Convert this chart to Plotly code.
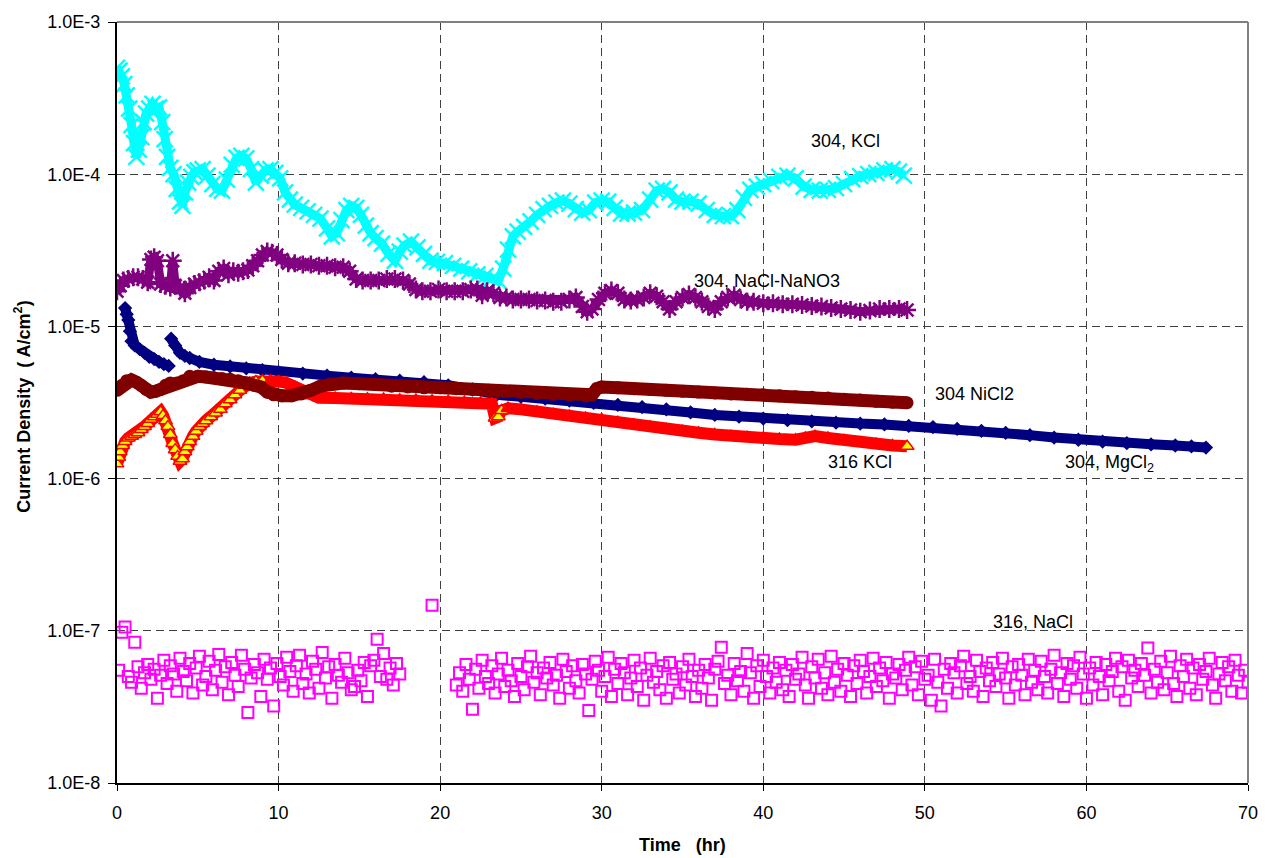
import plotly.graph_objects as go

# ---------------- data ----------------
# 304, KCl  (time hr, current density A/cm2)
kcl304_t = [0.0, 0.15, 0.3, 0.45, 0.6, 0.75, 0.9, 1.05, 1.2, 1.35, 1.5, 1.65, 1.8, 2.0, 2.2, 2.4, 2.6, 2.8,
            2.95, 3.1, 3.3, 3.5, 3.7, 3.9, 4.05, 4.2, 4.4, 4.6, 4.8, 5.0, 5.3, 5.6, 5.9, 6.2, 6.5, 6.8, 7.1,
            7.4, 7.7, 8.0, 8.3, 8.6, 8.9, 9.2, 9.5, 9.8, 10.1, 10.4, 10.7, 11.0, 11.4, 11.8, 12.2, 12.6, 13.0,
            13.3, 13.6, 13.9, 14.2, 14.5, 14.8, 15.1, 15.4, 15.7, 16.0, 16.4, 16.8, 17.2, 17.5, 17.8, 18.2,
            18.6, 19.0, 19.4, 19.8, 20.3, 20.8, 21.3, 21.8, 22.3, 22.8, 23.2, 23.6, 23.9, 24.2, 24.5, 24.8,
            25.2, 25.6, 26.0, 26.4, 26.8, 27.2, 27.6, 28.0, 28.4, 28.8, 29.2, 29.6, 30.0, 30.4, 30.8, 31.2,
            31.6, 32.0, 32.5, 33.0, 33.4, 33.8, 34.2, 34.6, 35.0, 35.5, 36.0, 36.5, 37.0, 37.5, 38.0, 38.4,
            38.8, 39.2, 39.6, 40.0, 40.5, 41.0, 41.5, 42.0, 42.5, 43.0, 43.5, 44.0, 44.5, 45.0, 45.5, 46.0,
            46.5, 47.0, 47.5, 48.0, 48.4, 48.7]
kcl304_j = [5.0e-4, 4.8e-4, 4.4e-4, 3.9e-4, 3.3e-4, 2.7e-4, 2.1e-4, 1.6e-4, 1.3e-4, 1.45e-4, 1.75e-4, 2.2e-4,
            2.5e-4, 2.7e-4, 2.9e-4, 2.7e-4, 2.75e-4, 2.2e-4, 1.7e-4, 1.3e-4, 1.1e-4, 1.0e-4, 8.0e-5, 6.6e-5,
            6.2e-5, 7.6e-5, 8.8e-5, 9.6e-5, 1.03e-4, 1.06e-4, 1.08e-4, 9.8e-5, 8.6e-5, 8.0e-5, 7.8e-5, 9.2e-5,
            1.15e-4, 1.28e-4, 1.32e-4, 1.27e-4, 1.08e-4, 8.8e-5, 9.8e-5, 1.06e-4, 1.08e-4, 1.02e-4, 9.4e-5,
            7.6e-5, 6.8e-5, 6.3e-5, 6.0e-5, 5.7e-5, 5.4e-5, 5.1e-5, 4.4e-5, 3.9e-5, 4.1e-5, 5.0e-5, 5.8e-5,
            6.2e-5, 6.0e-5, 5.4e-5, 4.6e-5, 4.1e-5, 3.8e-5, 3.5e-5, 3.0e-5, 2.7e-5, 3.1e-5, 3.4e-5, 3.6e-5,
            3.3e-5, 3.0e-5, 2.7e-5, 2.65e-5, 2.6e-5, 2.5e-5, 2.4e-5, 2.3e-5, 2.2e-5, 2.15e-5, 2.05e-5, 2.0e-5,
            2.4e-5, 3.2e-5, 3.9e-5, 4.2e-5, 4.5e-5, 4.9e-5, 5.4e-5, 5.9e-5, 6.2e-5, 6.5e-5, 6.7e-5, 6.4e-5,
            5.9e-5, 5.6e-5, 5.8e-5, 6.5e-5, 6.7e-5, 6.6e-5, 6.0e-5, 5.5e-5, 5.5e-5, 5.6e-5, 5.8e-5, 6.8e-5,
            7.8e-5, 8.0e-5, 7.6e-5, 6.8e-5, 6.6e-5, 6.6e-5, 6.4e-5, 5.8e-5, 5.4e-5, 5.3e-5, 5.3e-5, 5.8e-5,
            7.0e-5, 7.9e-5, 8.3e-5, 8.6e-5, 9.0e-5, 9.6e-5, 9.8e-5, 9.4e-5, 8.3e-5, 7.9e-5, 7.8e-5, 7.9e-5,
            8.1e-5, 8.6e-5, 9.3e-5, 9.7e-5, 1.0e-4, 1.02e-4, 1.06e-4, 1.08e-4, 1.04e-4, 9.8e-5]

# 304, NaCl-NaNO3
nano3_t = [0.0, 0.2, 0.4, 0.7, 1.0, 1.3, 1.6, 1.9, 2.1, 2.3, 2.5, 2.7, 3.0, 3.3, 3.45, 3.6, 3.9, 4.2, 4.5,
           4.8, 5.1, 5.4, 5.7, 6.0, 6.3, 6.6, 6.9, 7.2, 7.5, 7.8, 8.1, 8.4, 8.7, 9.0, 9.3, 9.6, 9.9, 10.2,
           10.6, 11.0, 11.5, 12.0, 12.5, 13.0, 13.5, 14.0, 14.4, 14.8, 15.2, 15.7, 16.2, 16.7, 17.2, 17.7,
           18.1, 18.5, 18.9, 19.4, 19.9, 20.4, 20.9, 21.4, 21.9, 22.3, 22.6, 22.9, 23.3, 23.7, 24.1, 24.5,
           25.0, 25.5, 26.0, 26.5, 27.0, 27.5, 28.0, 28.4, 28.8, 29.1, 29.4, 29.8, 30.2, 30.6, 31.0, 31.4,
           31.8, 32.2, 32.6, 33.0, 33.4, 33.8, 34.2, 34.6, 35.0, 35.4, 35.8, 36.2, 36.6, 37.0, 37.4, 37.8,
           38.2, 38.6, 39.0, 39.4, 40.0, 40.6, 41.2, 41.8, 42.4, 43.0, 43.6, 44.2, 44.8, 45.4, 46.0, 46.6,
           47.2, 47.8, 48.4, 48.9]
nano3_j = [1.7e-5, 1.85e-5, 2.0e-5, 2.05e-5, 2.1e-5, 2.1e-5, 2.05e-5, 1.95e-5, 2.75e-5, 2.85e-5, 2.7e-5,
           1.9e-5, 1.85e-5, 1.8e-5, 2.7e-5, 1.85e-5, 1.8e-5, 1.65e-5, 1.8e-5, 1.9e-5, 1.95e-5, 2.0e-5, 2.1e-5,
           2.0e-5, 2.3e-5, 2.4e-5, 2.2e-5, 2.3e-5, 2.25e-5, 2.3e-5, 2.35e-5, 2.5e-5, 2.7e-5, 2.95e-5, 3.1e-5,
           3.05e-5, 2.95e-5, 2.75e-5, 2.6e-5, 2.6e-5, 2.55e-5, 2.55e-5, 2.5e-5, 2.5e-5, 2.45e-5, 2.45e-5,
           2.3e-5, 2.05e-5, 2.0e-5, 2.0e-5, 2.0e-5, 2.05e-5, 2.05e-5, 2.0e-5, 1.9e-5, 1.75e-5, 1.7e-5, 1.7e-5,
           1.75e-5, 1.7e-5, 1.7e-5, 1.7e-5, 1.75e-5, 1.75e-5, 1.6e-5, 1.7e-5, 1.65e-5, 1.55e-5, 1.55e-5,
           1.5e-5, 1.5e-5, 1.5e-5, 1.48e-5, 1.48e-5, 1.45e-5, 1.45e-5, 1.5e-5, 1.55e-5, 1.35e-5, 1.25e-5,
           1.3e-5, 1.5e-5, 1.65e-5, 1.72e-5, 1.65e-5, 1.5e-5, 1.48e-5, 1.5e-5, 1.55e-5, 1.65e-5, 1.58e-5,
           1.45e-5, 1.3e-5, 1.45e-5, 1.55e-5, 1.62e-5, 1.55e-5, 1.45e-5, 1.35e-5, 1.3e-5, 1.45e-5, 1.55e-5,
           1.6e-5, 1.5e-5, 1.45e-5, 1.45e-5, 1.42e-5, 1.42e-5, 1.4e-5, 1.4e-5, 1.38e-5, 1.36e-5, 1.35e-5,
           1.32e-5, 1.3e-5, 1.28e-5, 1.25e-5, 1.27e-5, 1.3e-5, 1.3e-5, 1.3e-5, 1.28e-5]

# 304, MgCl2 (two runs: before / after restart at ~3.3 hr)
mgcl2_a_t = [0.5, 0.6, 0.7, 0.8, 0.9, 1.1, 1.4, 1.7, 2.0, 2.3, 2.6, 2.9, 3.2]
mgcl2_a_j = [1.32e-5, 1.2e-5, 1.1e-5, 9.3e-6, 8.0e-6, 7.5e-6, 7.1e-6, 6.7e-6, 6.3e-6, 6.1e-6, 5.85e-6,
             5.65e-6, 5.5e-6]
mgcl2_b_t = [3.35, 3.6, 3.9, 4.2, 4.5, 5.1, 6.0, 7.0, 8.0, 9.0, 10.0, 11.5, 13.0, 14.5, 16.0, 17.5, 19.0,
             20.5, 22.0, 23.5, 25.0, 26.5, 28.0, 29.5, 31.0, 32.5, 34.0, 35.5, 37.0, 38.5, 40.0, 41.5, 43.0,
             44.5, 46.0, 47.5, 49.0, 50.5, 52.0, 53.5, 55.0, 56.5, 58.0, 59.5, 61.0, 62.5, 64.0, 65.5, 66.5,
             67.4]
mgcl2_b_j = [8.3e-6, 7.5e-6, 6.7e-6, 6.4e-6, 6.2e-6, 5.85e-6, 5.6e-6, 5.45e-6, 5.3e-6, 5.15e-6, 5.0e-6,
             4.9e-6, 4.75e-6, 4.6e-6, 4.5e-6, 4.4e-6, 4.3e-6, 4.1e-6, 3.85e-6, 3.55e-6, 3.45e-6, 3.35e-6,
             3.25e-6, 3.15e-6, 3.05e-6, 2.95e-6, 2.85e-6, 2.72e-6, 2.62e-6, 2.55e-6, 2.48e-6, 2.42e-6,
             2.38e-6, 2.33e-6, 2.3e-6, 2.27e-6, 2.22e-6, 2.18e-6, 2.12e-6, 2.06e-6, 2.0e-6, 1.93e-6, 1.86e-6,
             1.8e-6, 1.75e-6, 1.71e-6, 1.68e-6, 1.65e-6, 1.63e-6, 1.6e-6]

# 304 NiCl2
nicl2_t = [0.0, 0.3, 0.6, 0.9, 1.2, 1.5, 1.8, 2.1, 2.4, 2.7, 3.0, 3.3, 3.7, 4.1, 4.5, 5.0, 5.5, 6.0, 6.5,
           7.0, 7.5, 8.0, 8.5, 8.9, 9.3, 9.7, 10.2, 10.8, 11.4, 12.0, 12.6, 13.2, 14.0, 15.0, 16.0, 17.0,
           18.0, 19.0, 20.0, 21.0, 22.0, 23.0, 24.0, 25.0, 26.0, 27.0, 28.0, 29.0, 29.4, 29.7, 30.0, 31.0,
           32.0, 33.0, 34.0, 35.0, 36.0, 37.0, 38.0, 39.0, 40.0, 41.0, 42.0, 43.0, 44.0, 45.0, 46.0, 47.0,
           48.0, 48.9]
nicl2_j = [3.8e-6, 4.1e-6, 4.4e-6, 4.45e-6, 4.3e-6, 4.1e-6, 3.85e-6, 3.7e-6, 3.75e-6, 3.85e-6, 4.1e-6,
           4.25e-6, 4.25e-6, 4.4e-6, 4.7e-6, 4.7e-6, 4.65e-6, 4.6e-6, 4.55e-6, 4.5e-6, 4.4e-6, 4.25e-6,
           4.1e-6, 4.0e-6, 3.7e-6, 3.55e-6, 3.5e-6, 3.5e-6, 3.6e-6, 3.8e-6, 4.05e-6, 4.2e-6, 4.25e-6, 4.2e-6,
           4.15e-6, 4.05e-6, 4.0e-6, 3.95e-6, 3.95e-6, 3.9e-6, 3.85e-6, 3.8e-6, 3.72e-6, 3.68e-6, 3.62e-6,
           3.58e-6, 3.55e-6, 3.5e-6, 3.55e-6, 3.9e-6, 4.0e-6, 3.95e-6, 3.9e-6, 3.85e-6, 3.8e-6, 3.75e-6,
           3.7e-6, 3.65e-6, 3.6e-6, 3.58e-6, 3.55e-6, 3.5e-6, 3.45e-6, 3.42e-6, 3.38e-6, 3.32e-6, 3.28e-6,
           3.22e-6, 3.18e-6, 3.15e-6]

# 316 KCl
kcl316_t = [0.0, 0.1, 0.2, 0.35, 0.5, 0.7, 0.9, 1.1, 1.3, 1.5, 1.7, 1.9, 2.1, 2.3, 2.5, 2.7, 2.85, 3.0, 3.15,
            3.3, 3.45, 3.6, 3.75, 3.9, 4.05, 4.2, 4.35, 4.5, 4.7, 4.9, 5.1, 5.3, 5.5, 5.8, 6.1, 6.4, 6.7, 7.0,
            7.3, 7.6, 7.9, 8.2, 8.6, 9.0, 9.5, 10.0, 10.5, 11.0, 11.5, 12.0, 12.5, 13.5, 14.5, 15.5, 16.5,
            17.5, 18.5, 19.5, 20.5, 21.5, 22.5, 23.2, 23.4, 23.6, 23.8, 24.2, 25.0, 26.0, 27.0, 28.0, 29.0,
            30.0, 31.0, 32.0, 33.0, 34.0, 35.0, 36.0, 37.0, 38.0, 39.0, 40.0, 41.0, 42.0, 42.6, 43.2, 44.0,
            45.0, 46.0, 47.0, 48.0, 48.9]
kcl316_j = [1.25e-6, 1.38e-6, 1.5e-6, 1.65e-6, 1.75e-6, 1.85e-6, 1.9e-6, 1.95e-6, 2.0e-6, 2.1e-6, 2.2e-6,
            2.3e-6, 2.45e-6, 2.55e-6, 2.65e-6, 2.75e-6, 2.6e-6, 2.4e-6, 2.2e-6, 1.95e-6, 1.7e-6, 1.55e-6,
            1.4e-6, 1.3e-6, 1.35e-6, 1.5e-6, 1.62e-6, 1.75e-6, 1.9e-6, 2.05e-6, 2.2e-6, 2.3e-6, 2.4e-6,
            2.55e-6, 2.7e-6, 2.85e-6, 3.1e-6, 3.3e-6, 3.55e-6, 3.8e-6, 4.1e-6, 4.25e-6, 4.35e-6, 4.4e-6,
            4.4e-6, 4.35e-6, 4.25e-6, 4.0e-6, 3.7e-6, 3.5e-6, 3.4e-6, 3.38e-6, 3.36e-6, 3.35e-6, 3.33e-6,
            3.3e-6, 3.28e-6, 3.25e-6, 3.22e-6, 3.18e-6, 3.15e-6, 3.1e-6, 2.5e-6, 2.55e-6, 2.8e-6, 2.9e-6,
            2.85e-6, 2.75e-6, 2.65e-6, 2.58e-6, 2.5e-6, 2.45e-6, 2.35e-6, 2.25e-6, 2.18e-6, 2.1e-6, 2.05e-6,
            2.0e-6, 1.95e-6, 1.9e-6, 1.87e-6, 1.85e-6, 1.82e-6, 1.8e-6, 1.85e-6, 1.9e-6, 1.85e-6, 1.78e-6,
            1.72e-6, 1.68e-6, 1.65e-6, 1.63e-6]

# 316, NaCl  (logged every 0.2 hr; values in units of 1e-8 A/cm2)
nacl316_dt = 0.2
nacl316_run1_start = 0.1
nacl316_run1 = [5.5, 9.8, 10.6, 5.0, 4.6, 8.4, 5.8, 4.2, 5.3, 6.0,
                4.8, 5.6, 3.6, 5.1, 6.4, 4.5, 5.9, 5.2, 4.0, 6.6,
                5.4, 4.7, 6.1, 3.9, 5.7, 6.8, 4.4, 5.0, 6.3, 4.1,
                5.5, 7.0, 4.6, 5.8, 3.8, 6.2, 5.1, 4.3, 6.9, 5.6,
                2.9, 4.9, 6.0, 5.3, 3.7, 6.5, 4.8, 5.7, 3.2, 6.1,
                5.0, 4.4, 6.7, 5.4, 4.0, 5.9, 6.9, 4.5, 5.2, 3.9,
                6.3, 5.6, 4.2, 7.2, 4.9, 5.8, 3.6, 6.0, 5.1, 4.6,
                6.6, 5.3, 4.1, 4.3, 5.5, 4.7, 6.2, 3.7, 5.9, 6.4,
                8.8, 5.0, 7.1, 4.8, 5.7, 4.4, 6.1, 5.2]
nacl316_single_t = [19.5]
nacl316_single = [14.7]
nacl316_run2_start = 21.0
nacl316_run2 = [4.4, 5.3, 4.0, 6.0, 4.8, 3.05, 5.6, 4.2, 6.4, 5.0,
                4.5, 5.9, 3.9, 5.2, 6.6, 4.3, 5.5, 4.7, 3.7, 6.1,
                5.0, 4.1, 5.8, 6.8, 4.6, 5.3, 3.8, 5.7, 4.9, 6.2,
                4.4, 5.1, 3.6, 6.5, 5.4, 4.2, 5.9, 4.7, 3.9, 6.0,
                5.2, 3.0, 4.8, 6.3, 5.5, 4.0, 5.0, 6.7, 3.7, 5.6,
                4.5, 6.1, 5.3, 3.8, 4.9, 6.4, 4.3, 5.7, 3.5, 5.1,
                6.6, 4.6, 5.4, 4.1, 5.9, 3.6, 6.2, 4.8, 5.2, 3.9,
                5.8, 4.4, 6.5, 5.0, 3.7, 5.5, 4.2, 6.0, 4.9, 3.5,
                5.6, 6.3, 7.8, 4.5, 5.1, 3.8, 6.1, 4.7, 5.4, 4.0,
                7.1, 5.3, 3.6, 5.9, 4.3, 6.4, 5.0, 3.9, 5.7, 4.6,
                6.2, 4.1, 5.5, 3.7, 6.0, 4.8, 5.2, 6.7, 4.4, 3.6,
                5.8, 4.9, 6.5, 4.2, 5.3, 3.8, 6.8, 4.6, 5.6, 4.0,
                6.1, 5.1, 3.7, 5.9, 4.5, 6.4, 5.4, 3.9, 5.0, 6.6,
                4.3, 5.7, 4.7, 6.2, 3.6, 5.2, 4.9, 6.0, 4.1, 5.5,
                6.7, 4.4, 5.8, 3.8, 6.3, 4.8, 5.1, 3.5, 6.5, 4.6,
                3.2, 5.6, 4.2, 6.1, 5.3, 3.9, 5.9, 6.8, 4.5, 5.0,
                4.0, 6.4, 5.4, 3.7, 5.7, 4.7, 6.2, 4.3, 5.2, 6.6,
                4.9, 3.6, 5.8, 4.4, 6.0, 5.1, 3.8, 6.5, 4.6, 5.5,
                4.1, 6.3, 5.0, 3.9, 5.6, 6.9, 4.5, 5.3, 3.7, 6.1,
                4.8, 5.9, 4.2, 6.7, 5.2, 3.6, 5.7, 4.4, 6.2, 5.0,
                3.8, 6.0, 4.7, 5.4, 6.6, 4.0, 5.8, 3.5, 6.4, 4.9,
                5.5, 4.3, 6.1, 5.1, 7.7, 3.9, 5.6, 4.6, 6.3, 4.1,
                5.3, 6.8, 4.5, 3.7, 5.9, 5.0, 6.5, 4.2, 5.7, 3.8,
                6.0, 4.8, 5.4, 6.6, 4.4, 3.6, 5.2, 6.2, 4.7, 5.8,
                4.0, 6.4, 5.1, 3.9, 5.5, 4.6]
nacl316_unit = 1e-8

labels = {
    "kcl304": "304, KCl",
    "nano3": "304, NaCl-NaNO3",
    "nicl2": "304 NiCl2",
    "kcl316": "316 KCl",
    "mgcl2": "304, MgCl<sub>2</sub>",
    "nacl316": "316, NaCl",
}
y_tick_vals = [1e-8, 1e-7, 1e-6, 1e-5, 1e-4, 1e-3]
y_tick_text = ["1.0E-8", "1.0E-7", "1.0E-6", "1.0E-5", "1.0E-4", "1.0E-3"]
x_tick_vals = [0, 10, 20, 30, 40, 50, 60, 70]

# ---------------- figure ----------------
FONT = "Arial, Liberation Sans, sans-serif"
fig = go.Figure()

nacl_t = ([round(nacl316_run1_start + nacl316_dt * i, 2) for i in range(len(nacl316_run1))]
          + nacl316_single_t
          + [round(nacl316_run2_start + nacl316_dt * i, 2) for i in range(len(nacl316_run2))])
nacl_j = [v * nacl316_unit for v in nacl316_run1 + nacl316_single + nacl316_run2]
fig.add_trace(go.Scatter(
    x=nacl_t, y=nacl_j, mode="markers", name="316, NaCl",
    marker=dict(symbol="square-open", size=11, color="#FF00FF", line=dict(width=2, color="#FF00FF"))))

fig.add_trace(go.Scatter(
    x=kcl304_t, y=kcl304_j, mode="lines+markers", name="304, KCl",
    line=dict(color="#00FFFF", width=9),
    marker=dict(symbol="x-thin", size=16, color="#00FFFF", line=dict(width=2.5, color="#00FFFF"))))

fig.add_trace(go.Scatter(
    x=nano3_t, y=nano3_j, mode="lines+markers", name="304, NaCl-NaNO3",
    line=dict(color="#800080", width=9),
    marker=dict(symbol="asterisk", size=15, color="#800080", line=dict(width=2.5, color="#800080"))))

fig.add_trace(go.Scatter(
    x=mgcl2_a_t + [None] + mgcl2_b_t, y=mgcl2_a_j + [None] + mgcl2_b_j,
    mode="lines+markers", name="304, MgCl2", connectgaps=False,
    line=dict(color="#000080", width=10),
    marker=dict(symbol="diamond", size=11, color="#000080")))

tri_fill = ["#FFFF00" if (t < 9.5 or 23.3 <= t <= 23.9 or t == kcl316_t[-1]) else "#FF0000"
            for t in kcl316_t]
fig.add_trace(go.Scatter(
    x=kcl316_t, y=kcl316_j, mode="lines+markers", name="316 KCl",
    line=dict(color="#FF0000", width=12),
    marker=dict(symbol="triangle-up", size=12, color=tri_fill, line=dict(width=1.5, color="#FF0000"))))

fig.add_trace(go.Scatter(
    x=nicl2_t, y=nicl2_j, mode="lines+markers", name="304 NiCl2",
    line=dict(color="#800000", width=13),
    marker=dict(symbol="circle", size=13, color="#800000")))

# series labels
ann_font = dict(family=FONT, size=18, color="#000000")
label_pos = {
    "kcl304": (45.1, -3.784),
    "nano3": (40.25, -4.702),
    "nicl2": (53.1, -5.443),
    "kcl316": (46.0, -5.889),
    "mgcl2": (61.4, -5.902),
    "nacl316": (56.7, -6.944),
}
for key, (ax, ay) in label_pos.items():
    fig.add_annotation(x=ax, y=ay, xref="x", yref="y", text=labels[key], showarrow=False,
                       font=ann_font, xanchor="center", yanchor="middle")

# axis titles
fig.add_annotation(x=0.5, y=-0.0813, xref="paper", yref="paper", text="<b>Time   (hr)</b>",
                   showarrow=False, font=dict(family=FONT, size=18, color="#000000"),
                   xanchor="center", yanchor="middle")
fig.add_annotation(x=-0.0836, y=0.495, xref="paper", yref="paper",
                   text="<b>Current Density  ( A/cm<sup>2</sup>)</b>", textangle=-90,
                   showarrow=False, font=dict(family=FONT, size=18, color="#000000"),
                   xanchor="center", yanchor="middle")

# plot-area border (top and right, gray)
fig.add_shape(type="line", xref="paper", yref="paper", x0=0, x1=1, y0=1, y1=1,
              line=dict(color="#808080", width=2), layer="above")
fig.add_shape(type="line", xref="paper", yref="paper", x0=1, x1=1, y0=0, y1=1,
              line=dict(color="#808080", width=2), layer="above")

fig.update_layout(
    width=1270, height=858,
    margin=dict(l=117, r=16, t=20, b=75, pad=0),
    paper_bgcolor="white", plot_bgcolor="white",
    showlegend=False,
    font=dict(family=FONT, size=18, color="#000000"),
    xaxis=dict(
        range=[0, 70], tickvals=x_tick_vals, ticktext=[str(v) for v in x_tick_vals],
        showline=True, linecolor="#000000", linewidth=2,
        ticks="outside", ticklen=6, tickcolor="#000000", tickwidth=1,
        showgrid=True, gridcolor="#404040", gridwidth=1, griddash="8px,5px",
        zeroline=False, tickfont=dict(family=FONT, size=18, color="#000000"),
        ticklabelstandoff=6,
    ),
    yaxis=dict(
        type="log", range=[-8, -3], tickvals=y_tick_vals, ticktext=y_tick_text,
        showline=True, linecolor="#000000", linewidth=2,
        ticks="outside", ticklen=7, tickcolor="#000000", tickwidth=1,
        showgrid=True, gridcolor="#404040", gridwidth=1, griddash="8px,5px",
        zeroline=False, tickfont=dict(family=FONT, size=18, color="#000000"),
        ticklabelstandoff=4,
    ),
)

fig.write_html("out.html")
